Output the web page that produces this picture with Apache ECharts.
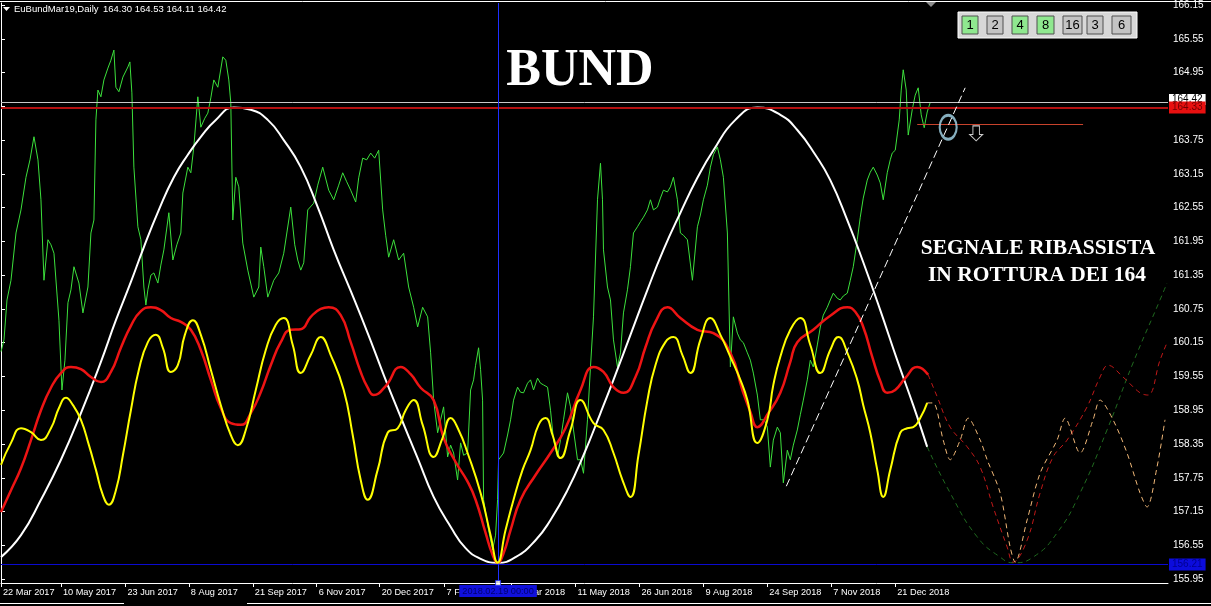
<!DOCTYPE html>
<html><head><meta charset="utf-8">
<script src="https://cdn.jsdelivr.net/npm/echarts@6/dist/echarts.min.js"></script>
<style>html,body{margin:0;padding:0;background:#000;}#c{width:1211px;height:606px;}</style>
</head><body><div id="c"></div>
<script>
// ---- axis data ----
const dateTicks = [0, 30, 62.25, 94, 126, 158, 189.5, 222, 255.5, 287.5, 319.5, 351.5, 383.5, 415.5, 447.5];
const dateLabels = ['22 Mar 2017','10 May 2017','23 Jun 2017','8 Aug 2017','21 Sep 2017','6 Nov 2017','20 Dec 2017','7 Feb 2018','26 Mar 2018','11 May 2018','26 Jun 2018','9 Aug 2018','24 Sep 2018','7 Nov 2018','21 Dec 2018'];
const priceLabels = [155.95,156.55,157.15,157.75,158.35,158.95,159.55,160.15,160.75,161.35,161.95,162.55,163.15,163.75,164.95,165.55,166.15];
const priceTicks = [155.95,156.55,157.15,157.75,158.35,158.95,159.55,160.15,160.75,161.35,161.95,162.55,163.15,163.75,164.35,164.95,165.55,166.15];
const Y_MIN = 155.88, Y_MAX = 166.187, X_MAX = 584;

// ---- series data [bar index, price] ----
const greenClose = [[0,159.99],[1.5,160.20],[3,160.91],[5,161.26],[7.5,162.10],[10,162.51],[12.5,163.09],[14.5,163.40],[16.5,163.81],[18.5,163.40],[20,162.69],[21.5,161.26],[23.5,161.98],[25,161.89],[26.5,161.74],[29,160.55],[30.5,159.31],[32,159.84],[33.5,160.86],[35,161.09],[36.5,161.50],[39,161.21],[41,160.68],[43.5,161.14],[45,162.10],[46.5,162.33],[47.5,164.11],[48.5,164.64],[50,164.52],[51.5,164.82],[53.5,165.03],[55,165.17],[56.5,165.35],[57.5,164.69],[59,164.61],[61,164.87],[63.5,165.05],[64.5,165.14],[65.5,164.59],[66.5,163.27],[68.5,162.21],[70,161.98],[71.5,161.14],[72.5,160.82],[73.5,161.09],[75,161.35],[76.5,161.39],[78.5,161.21],[80,161.53],[81.5,161.80],[84,162.46],[86,161.62],[88,161.89],[90,162.10],[91,162.81],[93.5,163.27],[95,163.17],[96.5,163.63],[98.5,164.52],[100,163.98],[102,164.14],[103.5,164.23],[105,164.50],[106.5,164.82],[108.5,164.69],[111,165.23],[112.5,165.17],[114,164.82],[115,164.41],[116,162.33],[117.5,163.09],[119,162.92],[121,161.92],[123.5,161.44],[126.5,160.96],[129,161.14],[130,161.85],[131.5,161.50],[133.5,160.96],[136.5,161.26],[139,161.39],[141.5,161.74],[145,162.56],[147,161.89],[148.5,161.62],[150,161.44],[151.5,161.57],[153.5,162.51],[156.5,162.63],[158.5,162.95],[161,163.27],[164,162.86],[166.5,162.69],[169,162.95],[171,163.17],[173,163.01],[175,162.86],[177.5,162.65],[179,163.08],[181,163.43],[183,163.40],[185,163.52],[187,163.43],[189,163.57],[191,162.51],[192.5,162.06],[194,161.67],[196.5,161.98],[199,161.62],[201.5,161.74],[204,161.14],[206.5,160.78],[208.5,160.43],[211,160.78],[213.5,160.61],[215,159.97],[216.5,159.13],[218.5,158.55],[220,158.78],[221.5,159.01],[223.5,158.12],[225,158.33],[226.5,158.19],[228.5,157.71],[230,158.37],[231.5,158.15],[233.5,158.19],[235,159.31],[236.5,159.49],[237.5,159.75],[239,160.06],[240,159.67],[241,159.13],[241.5,157.36],[244,156.82],[246,156.47],[247.5,156.73],[248.5,157.36],[249,158.07],[251.5,158.19],[253.5,158.51],[255,158.78],[256.5,159.13],[258.5,159.36],[260,159.27],[261.5,159.26],[263.5,159.43],[265,159.49],[266.5,159.31],[268.5,159.52],[270,159.43],[271.5,159.40],[273.5,159.36],[275,158.95],[276.5,158.42],[278.5,158.12],[280,158.42],[281.5,158.78],[283.5,159.26],[285,159.01],[286.5,158.60],[288.5,158.07],[290,158.07],[291.5,157.83],[293.5,158.78],[295,159.72],[296.5,160.61],[298.5,162.69],[300,163.34],[301,162.69],[301.5,161.80],[303.5,161.14],[305,160.91],[306.5,160.20],[308.5,159.72],[310,159.97],[311.5,160.68],[313.5,161.09],[315,161.50],[316.5,162.10],[318.5,162.21],[320,162.30],[321.5,162.38],[323.5,162.51],[325,162.69],[326.5,162.51],[328.5,162.56],[330,162.72],[331.5,162.86],[333.5,162.83],[335,162.92],[336.5,163.09],[338.5,162.69],[340,162.10],[341.5,162.06],[343.5,161.98],[346,161.26],[348.5,162.21],[350,162.42],[351.5,162.69],[353.5,162.95],[355,163.27],[356.5,163.49],[358.5,163.63],[360,163.40],[361.5,163.09],[363.5,162.10],[365,159.72],[366.5,160.61],[368.5,160.32],[370,160.20],[371.5,160.15],[373.5,159.97],[375,159.84],[376.5,159.61],[378.5,159.22],[380,158.78],[382,158.78],[383.5,158.65],[385,157.94],[386.5,158.42],[388.5,158.65],[390,158.55],[391.5,157.66],[393.5,158.24],[395,158.07],[396.5,158.33],[398.5,158.60],[400,158.87],[401.5,159.13],[403.5,159.49],[405,159.84],[406.5,159.72],[408.5,160.11],[410,160.43],[411.5,160.64],[413.5,160.78],[415,160.91],[416.5,161.03],[418.5,160.94],[420,160.91],[421.5,160.98],[423.5,161.03],[425,161.26],[426.5,161.50],[428.5,161.98],[430,162.38],[431.5,162.72],[433.5,163.04],[435,163.18],[436.5,163.27],[438.5,163.13],[440,162.99],[441.5,162.69],[443.5,163.17],[445,163.40],[446,163.52],[447.5,163.57],[448.5,163.57],[449.5,164.11],[450.5,164.64],[451.5,165.00],[453,164.64],[454,163.84],[456,164.29],[457.5,164.55],[459,164.68],[460.5,164.20],[462,163.97],[463.5,164.25],[465,164.42]];

const whiteCycle = [[0,156.34],[10,156.73],[20,157.36],[30,158.07],[40,158.90],[50,159.81],[57.5,160.55],[65,161.23],[71.5,161.85],[79,162.51],[86.5,163.09],[93.5,163.49],[100,163.81],[107.5,164.11],[116.5,164.33],[125,164.29],[133.5,164.11],[141.5,163.75],[150,163.27],[158.5,162.56],[166.5,161.80],[175,161.07],[183.5,160.32],[191.5,159.58],[200,158.83],[208.5,158.10],[216.5,157.41],[225,156.88],[232.5,156.50],[240,156.31],[248.5,156.24],[257.5,156.34],[267.5,156.64],[275,157.00],[283.5,157.53],[291.5,158.15],[300,158.90],[306.5,159.49],[315,160.29],[323.5,161.09],[331.5,161.80],[340,162.46],[348.5,163.08],[356.5,163.57],[367.5,164.11],[378.5,164.33],[390,164.20],[398.5,163.93],[407.5,163.49],[415,163.04],[423.5,162.33],[431.5,161.58],[440,160.73],[448.5,159.84],[456.5,159.04],[463.5,158.30]];
const whiteProjection = [[463.5,158.30],[475,157.48],[488.5,156.70],[500,156.34],[506.5,156.24],[516.5,156.34],[528.5,156.77],[540,157.48],[553.5,158.60],[566.5,159.79],[580,160.91],[583.5,161.21]];

const redCycle = [[0,157.14],[5,157.53],[10,157.92],[15,158.42],[20,158.95],[25,159.35],[30,159.61],[35,159.72],[40,159.68],[45,159.54],[50,159.45],[55,159.63],[60,160.06],[65,160.45],[70,160.71],[75,160.78],[80,160.73],[85,160.59],[90,160.52],[95,160.38],[100,160.02],[105,159.49],[110,158.99],[115,158.72],[120,158.69],[125,158.90],[130,159.27],[135,159.75],[140,160.16],[145,160.38],[150,160.39],[155,160.61],[160,160.75],[164,160.78],[170,160.64],[175,160.16],[180,159.63],[183.5,159.35],[186.5,159.22],[192.5,159.38],[200,159.72],[205,159.59],[210,159.35],[216.5,159.13],[221.5,158.46],[227.5,158.03],[233.5,157.68],[237.5,157.36],[242.5,156.77],[246,156.38],[248.5,156.24],[251.5,156.41],[255,156.82],[260,157.36],[267.5,157.80],[275,158.19],[282.5,158.63],[290,159.31],[296.5,159.72],[301.5,159.63],[306.5,159.36],[311.5,159.26],[317.5,159.54],[322.5,160.07],[327.5,160.52],[333.5,160.78],[340,160.59],[348.5,160.38],[356.5,160.32],[365,159.97],[371,159.31],[375,158.92],[378.5,158.65],[384,158.90],[390,159.26],[395,159.81],[398.5,160.16],[406.5,160.38],[415,160.63],[423.5,160.78],[427.5,160.70],[431.5,160.43],[436,159.90],[440,159.47],[443.5,159.26],[447.5,159.31],[452.5,159.52],[458.5,159.72],[464,159.58]];
const redProjection = [[464,159.58],[468.5,159.19],[475,158.65],[483.5,158.30],[490,157.94],[496.5,157.23],[503.5,156.52],[506.5,156.25],[513.5,156.64],[520,157.48],[526.5,158.12],[533.5,158.42],[543.5,159.01],[550,159.54],[554,159.75],[561.5,159.54],[570,159.26],[574,159.22],[580,159.84],[583.5,160.15]];

const yellowCycle = [[0,157.98],[5,158.37],[10,158.63],[15,158.56],[20,158.42],[25,158.63],[29,158.99],[32.5,159.17],[36,159.04],[40,158.78],[44,158.33],[47.5,157.89],[51,157.44],[54,157.27],[57.5,157.53],[61,158.15],[65,158.95],[69,159.67],[73.5,160.16],[77.5,160.29],[81,160.06],[85,159.63],[88.5,159.75],[92,160.29],[96,160.55],[100,160.29],[105,159.67],[110,159.04],[115,158.51],[118.5,158.33],[122.5,158.60],[127.5,159.31],[132.5,160.02],[137.5,160.47],[141.5,160.59],[146,160.11],[150,159.61],[155,159.93],[160,160.25],[165,159.93],[171.5,159.31],[176,158.51],[180,157.71],[183.5,157.36],[188.5,157.89],[193.5,158.55],[198.5,158.63],[202.5,158.95],[206.5,159.13],[211,158.69],[216.5,158.12],[221,158.46],[225,158.81],[229,158.60],[233.5,158.19],[240,157.48],[245,156.73],[248.5,156.24],[252.5,156.82],[256.5,157.36],[261,157.89],[265,158.24],[269,158.69],[272.5,158.81],[276,158.51],[280,158.10],[285,158.60],[290,159.13],[296.5,158.72],[301.5,158.60],[306.5,158.19],[311,157.71],[315,157.41],[319,158.15],[323.5,159.13],[327.5,159.75],[332.5,160.16],[336.5,160.25],[341,159.93],[345,159.61],[350,160.20],[355,160.59],[360,160.29],[365,159.90],[370,159.49],[373.5,159.13],[378.5,158.37],[383.5,158.78],[386.5,159.40],[390,159.90],[395,160.38],[400,160.59],[405,160.11],[410,159.61],[415,160.02],[419,160.25],[424,159.93],[428.5,159.49],[431.5,159.04],[435,158.55],[438.5,157.89],[441.5,157.41],[445,157.89],[450,158.55],[453.5,158.63],[456.5,158.65],[460,158.81],[463.5,159.08]];
const yellowProjection = [[463.5,159.08],[466.5,159.08],[471.5,158.42],[475,158.07],[480,158.42],[484,158.81],[490,158.42],[493.5,158.07],[500,157.48],[505,156.52],[507.5,156.25],[513.5,157.00],[520,157.83],[528.5,158.42],[532.5,158.81],[540,158.19],[546.5,158.78],[550,159.13],[556.5,158.78],[563.5,158.19],[570,157.48],[573.5,157.23],[578.5,157.94],[582.5,158.78]];

const trendLine = [[393,157.60],[482.5,164.68]];
const bidPrice = 164.42, linePrice = 164.33, signalLevel = 164.03, lowLevel = 156.21;
const signalStart = 458.5, signalEnd = 541.5;
const markedBar = 248.75, markedDate = '2018.02.19 00:00';
const breakCircle = [[474, 163.98]];
const downArrow = [[488, 163.87]];
const headerSymbol = 'EuBundMar19,Daily';
const headerPrices = '164.30 164.53 164.11 164.42';
const buttons = [['1',true],['2',false],['4',true],['8',true],['16',false],['3',false],['6',false]];

const FONT = '"Liberation Sans", Arial, sans-serif';
const SERIF = '"Liberation Serif", "Times New Roman", serif';

const chart = echarts.init(document.getElementById('c'), null, {renderer: 'canvas'});

function line(name, data, color, width, opts) {
  return Object.assign({
    name, type: 'line', data, showSymbol: false, symbol: 'none', animation: false,
    lineStyle: {color, width}, emphasis: {disabled: true}, silent: true
  }, opts || {});
}

const btnX = [962, 987, 1012, 1037, 1063, 1087, 1112];
const btnW = [16, 16, 16, 17, 19, 16, 19];
const buttonGraphics = [{type:'rect', shape:{x:958, y:12, width:179, height:26}, style:{fill:'#d8d8d8', stroke:'#ffffff', lineWidth:1}, z:100}];
buttons.forEach((b, i) => {
  buttonGraphics.push({type:'rect', shape:{x:btnX[i], y:16, width:btnW[i], height:18}, style:{fill: b[1] ? '#8fe88f' : '#c4c4c4', stroke:'#505050', lineWidth:1}, z:101});
  buttonGraphics.push({type:'text', x: btnX[i] + btnW[i]/2, y: 25.5, style:{text: b[0], fill:'#000', font:'13px ' + FONT, textAlign:'center', textVerticalAlign:'middle'}, z:102});
});

const option = {
  backgroundColor: '#000000',
  animation: false,
  grid: {left: 0, right: 43, top: 3, bottom: 23},
  xAxis: {
    type: 'value', min: 0, max: X_MAX,
    axisLine: {lineStyle: {color: '#ffffff', width: 1}},
    splitLine: {show: false},
    axisTick: {customValues: dateTicks, length: 4, lineStyle: {color: '#ffffff'}},
    axisLabel: {customValues: dateTicks, formatter: v => { const i = dateTicks.indexOf(v); return i >= 0 ? dateLabels[i] : ''; },
      color: '#ffffff', fontSize: 9.2, fontFamily: FONT, align: 'left', margin: 5, padding: [0,0,0,2]}
  },
  yAxis: {
    type: 'value', position: 'right', min: Y_MIN, max: Y_MAX, scale: true,
    axisLine: {show: true, lineStyle: {color: '#ffffff', width: 1}},
    splitLine: {show: false},
    axisTick: {show: true, customValues: priceTicks, length: 4, lineStyle: {color: '#ffffff'}},
    axisLabel: {customValues: priceLabels, formatter: v => v.toFixed(2), color: '#ffffff', fontSize: 10, fontFamily: FONT, margin: 5}
  },
  series: [
    line('close', greenClose, '#3ce03c', 1, {z: 2,
      markLine: {silent: true, symbol: ['none','none'], animation: false, data: [
        {yAxis: bidPrice, lineStyle: {color: '#c8c8c8', width: 1, type: 'solid'},
          label: {show: true, position: 'end', formatter: bidPrice.toFixed(2), backgroundColor: '#ffffff', color: '#000000', fontSize: 10, fontFamily: FONT, padding: [1,3,0,3], distance: 1, offset: [0,-3]}},
        {yAxis: linePrice, lineStyle: {color: '#b41010', width: 2, type: 'solid'},
          label: {show: true, position: 'end', formatter: linePrice.toFixed(2), backgroundColor: '#e81010', color: '#700000', fontSize: 10, fontFamily: FONT, padding: [1,3,1,3], distance: 1}},
        {yAxis: lowLevel, lineStyle: {color: '#0a0ad0', width: 1, type: 'solid'},
          label: {show: true, position: 'end', formatter: lowLevel.toFixed(2), backgroundColor: '#0c0cdc', color: '#000090', fontSize: 10, fontFamily: FONT, padding: [1,3,1,3], distance: 1}},
        {xAxis: markedBar, lineStyle: {color: '#1e30ff', width: 1, type: 'solid'},
          label: {show: true, position: 'start', formatter: markedDate, backgroundColor: '#1010dc', color: '#00006e', fontSize: 9.2, fontFamily: FONT, padding: [2,3,1,3], distance: 2}},
        [{coord: [signalStart, signalLevel], lineStyle: {color: '#c8432c', width: 1, type: 'solid'}, label: {show: false}}, {coord: [signalEnd, signalLevel]}]
      ]}
    }),
    line('cycleWhite', whiteCycle, '#ffffff', 2, {smooth: 0.5, z: 3}),
    line('cycleWhiteProj', whiteProjection, '#1f6a1f', 1, {smooth: 0.5, z: 3, lineStyle: {color: '#1f6a1f', width: 1, type: [5,4]}}),
    line('cycleRed', redCycle, '#ee1414', 2.5, {smooth: 0.5, z: 4}),
    line('cycleRedProj', redProjection, '#c01818', 1, {smooth: 0.4, z: 4, lineStyle: {color: '#c01818', width: 1, type: [5,4]}}),
    line('cycleYellow', yellowCycle, '#ffff00', 2, {smooth: 0.5, z: 5}),
    line('cycleYellowProj', yellowProjection, '#f0b878', 1, {smooth: 0.3, z: 5, lineStyle: {color: '#f0b878', width: 1, type: [5,4]}}),
    line('trend', trendLine, '#ffffff', 1, {z: 6, lineStyle: {color: '#ffffff', width: 1, type: [8,4]}}),
    {type: 'scatter', data: breakCircle, symbol: 'circle', symbolSize: [17, 24], silent: true, z: 7,
      itemStyle: {color: 'rgba(0,0,0,0)', borderColor: '#a6daee', borderWidth: 2.5}},
    {type: 'scatter', data: downArrow, symbol: 'path://M3 0 L9 0 L9 8 L12 8 L6 14 L0 8 L3 8 Z', symbolSize: [13, 15], silent: true, z: 7,
      itemStyle: {color: 'rgba(0,0,0,0)', borderColor: '#ffffff', borderWidth: 1}},
    {type: 'scatter', data: [[markedBar, Y_MIN]], symbol: 'rect', symbolSize: 5, silent: true, z: 8, clip: false,
      itemStyle: {color: '#ffffff', borderColor: '#2030ff', borderWidth: 1}}
  ],
  graphic: [
    {type: 'line', shape: {x1: 0, y1: 1.5, x2: 1211, y2: 1.5}, style: {stroke: '#ffffff', lineWidth: 1}, z: 50},
    {type: 'polygon', shape: {points: [[3,7],[10,7],[6.5,11]]}, style: {fill: '#ffffff'}, z: 100},
    {type: 'polygon', shape: {points: [[926,2],[936,2],[931,7]]}, style: {fill: '#8c8c8c'}, z: 100},
    {type: 'text', x: 14, y: 9, style: {text: headerSymbol, fill: '#ffffff', font: '9.5px ' + FONT, textVerticalAlign: 'middle'}, z: 100},
    {type: 'text', x: 103, y: 9, style: {text: headerPrices, fill: '#ffffff', font: '9.5px ' + FONT, textVerticalAlign: 'middle'}, z: 100},
    {type: 'text', x: 580, y: 72, style: {text: 'BUND', fill: '#ffffff', font: 'bold 52px ' + SERIF, textAlign: 'center', textVerticalAlign: 'middle'}, z: 100},
    {type: 'text', x: 1038, y: 248, style: {text: 'SEGNALE RIBASSISTA', fill: '#ffffff', font: 'bold 21.5px ' + SERIF, textAlign: 'center', textVerticalAlign: 'middle'}, z: 100},
    {type: 'text', x: 1037, y: 275, style: {text: 'IN ROTTURA DEI 164', fill: '#ffffff', font: 'bold 21.5px ' + SERIF, textAlign: 'center', textVerticalAlign: 'middle'}, z: 100},
    {type: 'line', shape: {x1: 0, y1: 603.5, x2: 124, y2: 603.5}, style: {stroke: '#ffffff', lineWidth: 1}, z: 50},
    {type: 'line', shape: {x1: 247, y1: 603.5, x2: 1211, y2: 603.5}, style: {stroke: '#ffffff', lineWidth: 1}, z: 50}
  ].concat(buttonGraphics)
};
chart.setOption(option);
</script>
</body></html>
